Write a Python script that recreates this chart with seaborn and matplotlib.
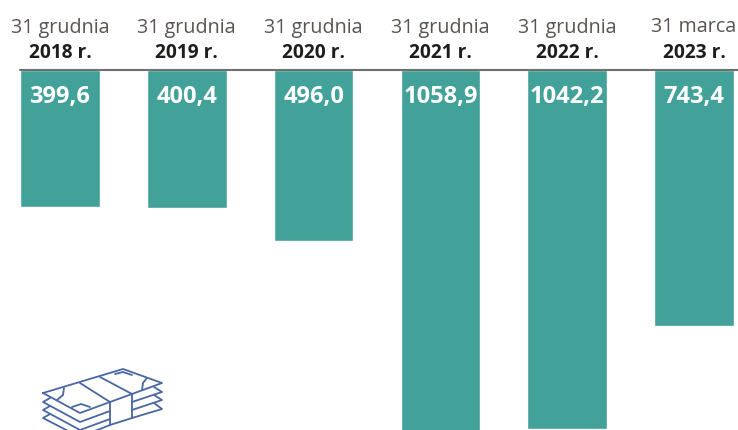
import matplotlib
matplotlib.use("Agg")
import matplotlib.pyplot as plt
import seaborn as sns

dates = ["31 grudnia", "31 grudnia", "31 grudnia", "31 grudnia", "31 grudnia", "31 marca"]
years = ["2018 r.", "2019 r.", "2020 r.", "2021 r.", "2022 r.", "2023 r."]
values = [399.6, 400.4, 496.0, 1058.9, 1042.2, 743.4]
labels = ["399,6", "400,4", "496,0", "1058,9", "1042,2", "743,4"]

W, H = 738, 430
TEAL = "#42a199"
ICON = "#4a67a3"

sns.set_theme(style="white")
plt.rcParams["font.family"] = ["Open Sans", "DejaVu Sans"]

fig = plt.figure(figsize=(W / 100, H / 100), dpi=100)
# axes fill the picture from the top rule down to the bottom edge
ax = fig.add_axes([0, 0, 1, (H - 70) / H])

cats = [f"{d} {y}" for d, y in zip(dates, years)]
sns.barplot(x=cats, y=values, color=TEAL, saturation=1, width=0.628, ax=ax)

ax.set_xlim(-60.0 / 126.8, (W - 60.0) / 126.8)
ax.set_ylim((H - 70) / 0.344, 0)
ax.axis("off")
ax.plot([20 / W, 1], [1, 1], transform=ax.transAxes, color="#6f6f6f", lw=1.5, clip_on=False)

trans = ax.get_xaxis_transform()
for i, lab in enumerate(labels):
    ax.annotate(lab, (i, 1), xycoords=trans, xytext=(0, -27.5), textcoords="offset pixels",
                ha="center", va="center", color="white", fontsize=17, fontweight="bold")
    ax.annotate(dates[i], (i, 1), xycoords=trans, xytext=(0, 42.5), textcoords="offset pixels",
                ha="center", va="center", color="#5a5552", fontsize=14.2, annotation_clip=False)
    ax.annotate(years[i], (i, 1), xycoords=trans, xytext=(0, 17), textcoords="offset pixels",
                ha="center", va="center", color="#1d1d1b", fontsize=13.8, fontweight="bold", annotation_clip=False)

# banknote icon, in picture pixels
over = fig.add_axes([0, 0, 1, 1], facecolor="none")
over.set_xlim(0, W)
over.set_ylim(H, 0)
over.axis("off")
icon_lines = [
    [(43, 393), (123, 369), (162, 383), (132, 394), (110, 402), (80, 413), (43, 393)],
    [(80, 383), (110, 402), (110, 425)],
    [(100, 377), (132, 394), (132, 418)],
    [(50, 398), (43, 402), (80, 422), (110, 411)],
    [(50, 406), (43, 410), (80, 430), (110, 419)],
    [(50, 414), (43, 418), (72, 433)],
    [(154, 387), (162, 392), (132, 402)],
    [(154, 395), (162, 400), (132, 410)],
    [(154, 403), (162, 409), (132, 418)],
    [(132, 418), (110, 425), (95, 431)],
    [(64, 388), (63, 395), (57, 400)],
    [(72, 407), (81, 404), (90, 407)],
    [(115, 374), (123, 372), (132, 375)],
    [(142, 390), (143, 383), (147, 378)],
]
for pts in icon_lines:
    over.plot([p[0] for p in pts], [p[1] for p in pts], color=ICON, lw=1.3, solid_joinstyle="round")

fig.savefig("out.png", dpi=100)
